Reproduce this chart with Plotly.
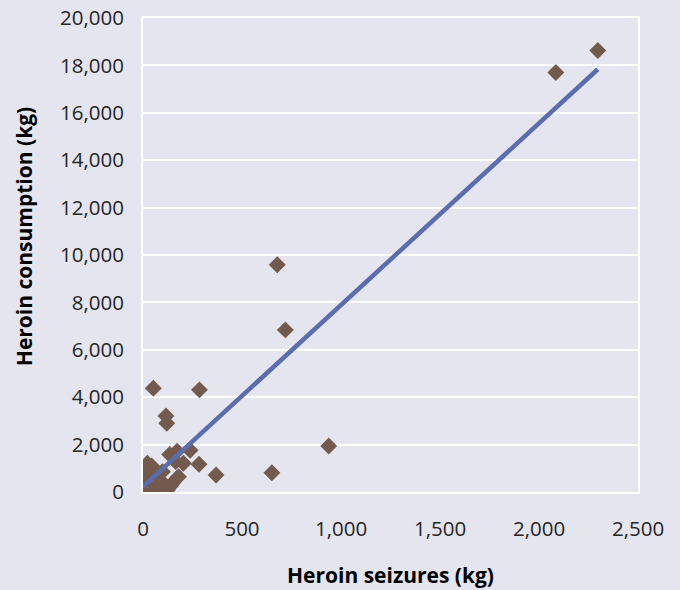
import plotly.graph_objects as go

# Heroin seizures (kg) vs heroin consumption (kg)
seizures_kg = [2297, 2085, 678, 719, 52, 285, 116, 120, 938, 651, 369, 283,
               238, 172, 135, 204, 179, 140, 95, 0, 0, 0, 22, 44, 56, 30, 61,
               98, 123, 148, 165, 86, 10]
consumption_kg = [18630, 17700, 9590, 6840, 4380, 4310, 3210, 2900, 1940, 815,
                  718, 1170, 1760, 1720, 1580, 1212, 646, 260, 435, 850, 380,
                  20, 1210, 1100, 84, 500, 650, 857, 84, 367, 1280, 300, 600]

trend_slope = 7.67
trend_intercept = 220

x_ticks = [0, 500, 1000, 1500, 2000, 2500]
x_tick_labels = ["0", "500", "1,000", "1,500", "2,000", "2,500"]
y_ticks = list(range(0, 20001, 2000))
y_tick_labels = [f"{v:,}" for v in y_ticks]

x_title = "Heroin seizures (kg)"
y_title = "Heroin consumption (kg)"

BG = "#E4E5EE"
FONT = "Open Sans"
TICK_SIZE = 20.5
TITLE_SIZE = 21

fig = go.Figure()

fig.add_trace(go.Scatter(
    x=seizures_kg, y=consumption_kg, mode="markers",
    marker=dict(symbol="diamond", size=13, color="#725A4D", line=dict(width=0)),
    hoverinfo="x+y", showlegend=False,
))

tx = [min(seizures_kg), max(seizures_kg)]
ty = [trend_intercept + trend_slope * v for v in tx]
fig.add_trace(go.Scatter(
    x=tx, y=ty, mode="lines",
    line=dict(color="#5A6DAE", width=4.5),
    hoverinfo="skip", showlegend=False,
))

fig.update_layout(
    width=680, height=590,
    margin=dict(l=143, r=42, t=18, b=98),
    paper_bgcolor=BG, plot_bgcolor=BG,
    font=dict(family=FONT, size=TICK_SIZE, color="#262626"),
    xaxis=dict(
        range=[0, 2500], tickvals=x_ticks, ticktext=x_tick_labels,
        showgrid=False, zeroline=False, automargin=False,
        showline=True, linecolor="white", linewidth=2, mirror=True,
        ticks="outside", ticklen=17, tickcolor="rgba(0,0,0,0)",
        tickfont=dict(family=FONT, size=TICK_SIZE, color="#262626"),
    ),
    yaxis=dict(
        range=[0, 20000], tickvals=y_ticks, ticktext=y_tick_labels,
        showgrid=True, gridcolor="white", gridwidth=2, zeroline=False,
        automargin=False,
        showline=True, linecolor="white", linewidth=2, mirror=True,
        ticks="outside", ticklen=13, tickcolor="rgba(0,0,0,0)",
        tickfont=dict(family=FONT, size=TICK_SIZE, color="#262626"),
    ),
    annotations=[
        dict(text=f"<b>{x_title}</b>", xref="paper", yref="paper",
             x=0.501, y=-0.175, xanchor="center", yanchor="middle",
             showarrow=False, font=dict(family=FONT, size=TITLE_SIZE, color="black")),
        dict(text=f"<b>{y_title}</b>", xref="paper", yref="paper",
             x=-0.24, y=0.538, xanchor="center", yanchor="middle", textangle=-90,
             showarrow=False, font=dict(family=FONT, size=TITLE_SIZE, color="black")),
    ],
)

fig.write_html(
    "out.html",
    config={"displayModeBar": False},
    post_script="document.body.style.margin='0';document.body.style.background='%s';" % BG,
)
